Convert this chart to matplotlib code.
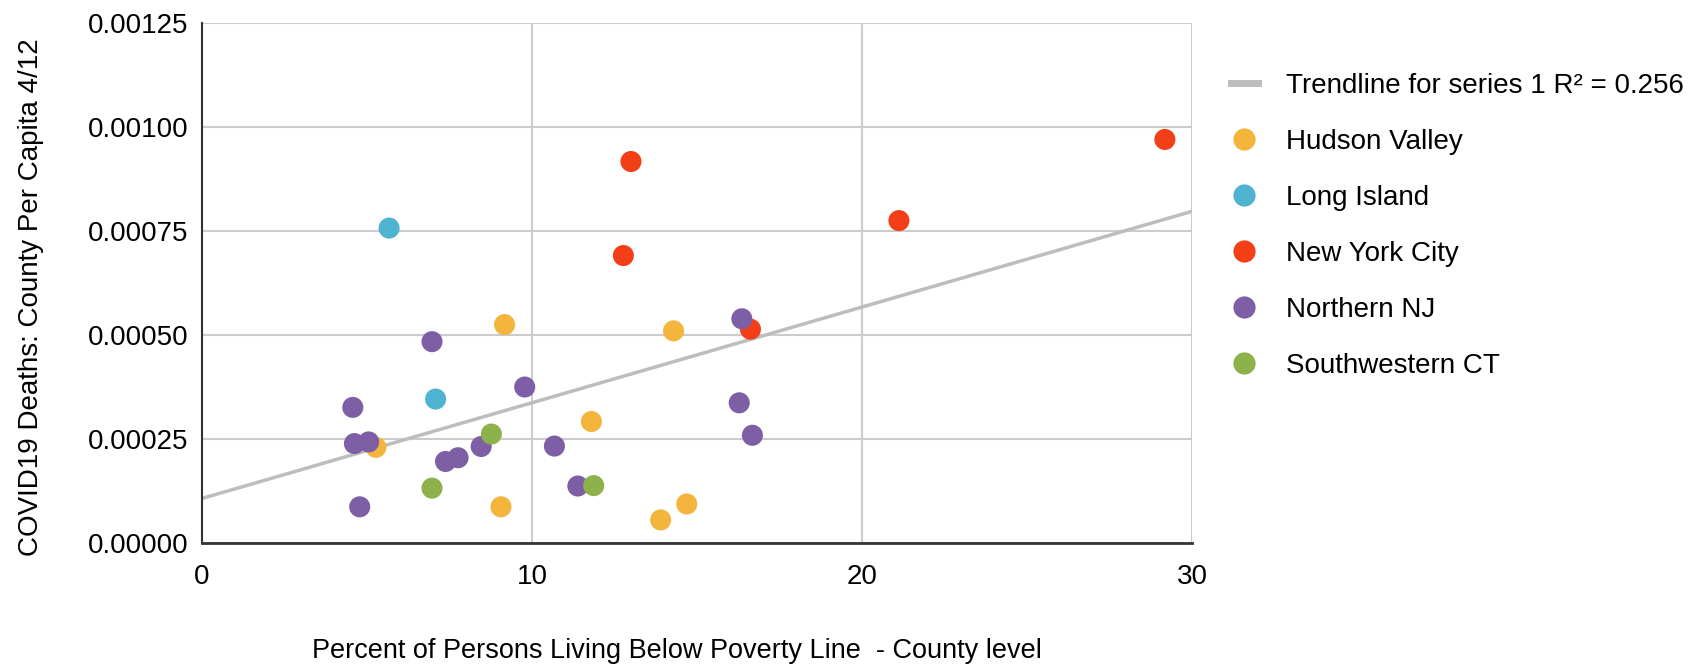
import numpy as np
import matplotlib.pyplot as plt
from matplotlib.lines import Line2D

plt.rcParams['font.family'] = ['Liberation Sans', 'DejaVu Sans']

# poverty % and deaths per capita, by region
hudson_x = [9.17, 14.29, 11.8, 5.27, 9.06, 13.9, 14.69]
hudson_y = [0.000525, 0.00051, 0.000292, 0.00023, 0.000087, 0.0000555, 0.0000938]
li_x = [5.67, 7.08]
li_y = [0.000757, 0.000346]
nyc_x = [13.0, 12.77, 21.12, 29.18, 16.62]
nyc_y = [0.000917, 0.000691, 0.000775, 0.00097, 0.000514]
nnj_x = [6.97, 9.78, 4.57, 4.62, 5.05, 8.46, 10.68, 7.38, 7.76, 11.39, 4.78, 16.36, 16.28, 16.68]
nnj_y = [0.000484, 0.000375, 0.000326, 0.000239, 0.000243, 0.000232, 0.000233,
         0.000196, 0.000205, 0.000137, 0.000087, 0.000539, 0.000337, 0.000259]
ct_x = [8.77, 6.97, 11.87]
ct_y = [0.000262, 0.000132, 0.000138]

regions = ['Hudson Valley', 'Long Island', 'New York City', 'Northern NJ', 'Southwestern CT']
colors = ['#F3B53C', '#4FB3D1', '#F23F17', '#7E5FA6', '#8DB14B']
xs = [hudson_x, li_x, nyc_x, nnj_x, ct_x]
ys = [hudson_y, li_y, nyc_y, nnj_y, ct_y]

fig = plt.figure(figsize=(16.96, 6.64), dpi=100)
ax = fig.add_axes([0.1191, 0.1822, 0.5837, 0.7832])

# trendline over all points
allx = np.concatenate([np.array(v) for v in xs])
ally = np.concatenate([np.array(v) for v in ys])
slope, icpt = np.polyfit(allx, ally, 1)
tx = np.array([0, 30])
ax.plot(tx, icpt + slope * tx, color='#BDBDBD', lw=2.5, zorder=2)

for x, y, c in zip(xs, ys, colors):
    ax.scatter(x, y, s=230, color=c, edgecolors='none', zorder=3)

ax.set_xlim(0, 30)
ax.set_ylim(0, 0.00125)
ax.set_xticks([0, 10, 20, 30])
yt = [0, 0.00025, 0.0005, 0.00075, 0.001, 0.00125]
ax.set_yticks(yt)
ax.set_yticklabels(['%.5f' % v for v in yt])
ax.grid(True, color='#CCCCCC', lw=1.5)
ax.set_axisbelow(True)
ax.tick_params(length=0, labelsize=20)
ax.tick_params(axis='y', pad=10)
ax.tick_params(axis='x', pad=15)
for s in ['top', 'right']:
    ax.spines[s].set_visible(False)
ax.spines['left'].set_color('#333333')
ax.spines['bottom'].set_color('#333333')
ax.spines['left'].set_linewidth(1.5)
ax.spines['bottom'].set_linewidth(2)

fig.text(0.399, 0.02, 'Percent of Persons Living Below Poverty Line  - County level',
         ha='center', va='center', fontsize=19.5)
fig.text(0.018, 0.552, 'COVID19 Deaths: County Per Capita 4/12',
         rotation=90, ha='center', va='center', fontsize=20)

handles = [Line2D([0], [0], color='#BDBDBD', lw=5)]
for c in colors:
    handles.append(Line2D([0], [0], marker='o', color='none', markerfacecolor=c,
                          markeredgecolor='none', markersize=16))
labels = ['Trendline for series 1 R\u00b2 = 0.256'] + regions
fig.legend(handles, labels, loc='upper left', bbox_to_anchor=(0.719, 0.907),
           frameon=False, fontsize=20, handlelength=1.0, handletextpad=1.0,
           labelspacing=1.08, borderaxespad=0)

fig.savefig('out.png', dpi=100)
